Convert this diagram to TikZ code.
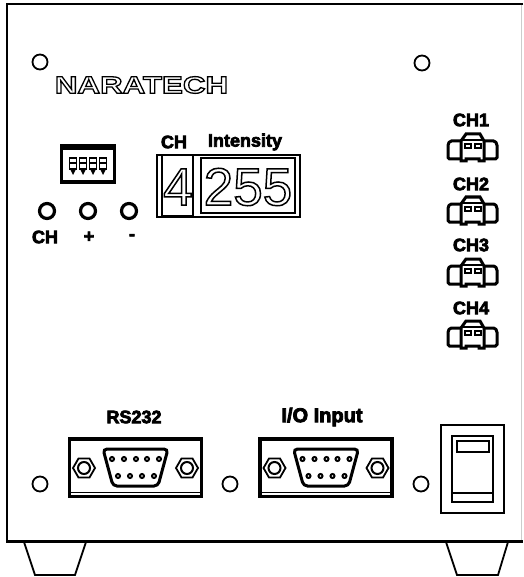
\documentclass[tikz,border=0pt]{standalone}
\usepackage{fontspec}
\setmainfont{Liberation Sans}
\newfontfamily\wideface[FakeStretch=1.32]{Liberation Sans}
\newfontfamily\heavyface[FakeBold=4]{Liberation Sans Bold}
\tikzset{
    panel/.style={draw=black, line width=2.2},
    hole/.style={draw=black, line width=1.8},
    knob/.style={draw=black, line width=3.2},
    thinpart/.style={draw=black, line width=1.8},
    thickpart/.style={draw=black, line width=3},
    platepart/.style={draw=black, line width=3.8},
    boldlabel/.style={font=\heavyface\fontsize{18}{18}\selectfont, inner sep=0pt}
}
% outlined text
\newcommand{\hollowtext}[2]{\special{pdf:code q 1 Tr #1 w}#2\special{pdf:code Q}}
% 9 pin socket with its two nuts, x is the left edge of the plate
\newcommand{\subdsocket}[1]{
    \begin{scope}[xshift=#1]
    \draw[platepart] (69.5,439) rectangle (201.5,496.5);
    \draw[thinpart] (69,492.5) -- (202,492.5);
    \draw[thickpart, rounded corners=4] (103,449) -- (168,449) -- (158,486) -- (113,486) -- cycle;
    \foreach \px in {112,124,136,147,159}
        \draw[thinpart, line width=2] (\px,459) circle (2);
    \foreach \px in {118,130,142,154}
        \draw[thinpart, line width=2] (\px,476) circle (2);
    \foreach \nx in {84,187} {
        \draw[thinpart] (\nx-11,468) -- (\nx-5.5,458.5) -- (\nx+5.5,458.5) -- (\nx+11,468) -- (\nx+5.5,477.5) -- (\nx-5.5,477.5) -- cycle;
        \draw[thinpart, line width=2] (\nx,468) circle (6);
    }
    \end{scope}
}
% small housing for a channel, y is the top edge
\newcommand{\chplug}[1]{
    \begin{scope}[yshift=-#1]
    \draw[thickpart, rounded corners=1.5] (461,8) -- (450,8) -- (448,11) -- (448,26) -- (461,26);
    \draw[thickpart, rounded corners=1.5] (484,8) -- (495,8) -- (497,11) -- (497,26) -- (484,26);
    \draw[thickpart] (461,28) -- (461,8) -- (466,1) -- (480,1) -- (484,8) -- (484,28) -- (479,28) -- (479,26) -- (466,26) -- (466,28) -- cycle;
    \draw[thinpart] (461,7) -- (484,7);
    \draw[thinpart] (465,11) rectangle (471,15);
    \draw[thinpart] (475,11) rectangle (481,15);
    \end{scope}
}
\begin{document}
\begin{tikzpicture}[x=1pt, y=-1pt]
    \useasboundingbox (0,0) rectangle (523,577);
    \fill[white] (0,0) rectangle (523,577);

    % CASE
    \draw[black!20, line width=1] (521,4) -- (521,541);
    \draw[panel] (523,4) -- (7,4) -- (7,541.5) -- (523,541.5);
    \draw[thinpart] (24,542) -- (35,575) -- (75,575) -- (86,542);
    \draw[thinpart] (446,542) -- (457,575) -- (498,575) -- (508,542);

    % HOLES
    \foreach \hx/\hy in {40/62, 422/63, 40/484, 230/484, 421/484}
        \draw[hole] (\hx,\hy) circle (7.5);

    % LOGO
    \node[inner sep=0pt] (logo) at (141.5,85) {\wideface\bfseries\fontsize{23.7}{24}\selectfont\hollowtext{1.3}{NARATECH}};

    % DIP SWITCH
    \draw[platepart] (61.5,146) rectangle (114.5,182);
    \draw[thinpart] (61,149) -- (115,149);
    \foreach \sx in {73,83,93,103} {
        \draw[thinpart] (\sx-3.5,158) rectangle (\sx+3.5,169);
        \draw[thinpart] (\sx-3.5,163) -- (\sx+3.5,163);
        \fill (\sx-2.5,170) -- (\sx+2.5,170) -- (\sx,175) -- cycle;
    }

    % KEYS
    \foreach \kx in {47,88,129}
        \draw[knob] (\kx,211) circle (7.5);
    \node[boldlabel] (keych) at (45,237) {CH};
    \node[boldlabel] (keyplus) at (89,237) {+};
    \node[boldlabel] (keyminus) at (132,237) {-};

    % DISPLAY
    \node[boldlabel] (chhead) at (174,142) {CH};
    \node[boldlabel] (inthead) at (245,142) {Intensity};
    \draw[thinpart] (157,155) rectangle (300,217);
    \draw[thinpart] (162,155) rectangle (193,216);
    \draw[thinpart] (201,158) rectangle (295,213);
    \node[inner sep=0pt] (chvalue) at (178,187) {\fontsize{53}{53}\selectfont\hollowtext{1.5}{4}};
    \node[inner sep=0pt] (intvalue) at (248,187) {\fontsize{53}{53}\selectfont\hollowtext{1.5}{255}};

    % CHANNELS
    \foreach \cn/\ty/\py in {1/120/133, 2/184/196, 3/245/258, 4/308/320} {
        \node[boldlabel] (ch\cn) at (471,\ty) {CH\cn};
        \chplug{\py}
    }

    % SOCKETS
    \node[boldlabel] (rslabel) at (134,417) {RS232};
    \node[boldlabel, font=\heavyface\fontsize{20}{20}\selectfont] (iolabel) at (322,417) {I/O Input};
    \subdsocket{0}
    \subdsocket{190.5}

    % POWER SWITCH
    \draw[thinpart] (441,425) rectangle (504,513);
    \draw[thinpart] (452,436) rectangle (493,502);
    \draw[thinpart] (457,441) rectangle (489,452);
    \draw[thinpart] (452,493) -- (493,493);
\end{tikzpicture}
\end{document}
